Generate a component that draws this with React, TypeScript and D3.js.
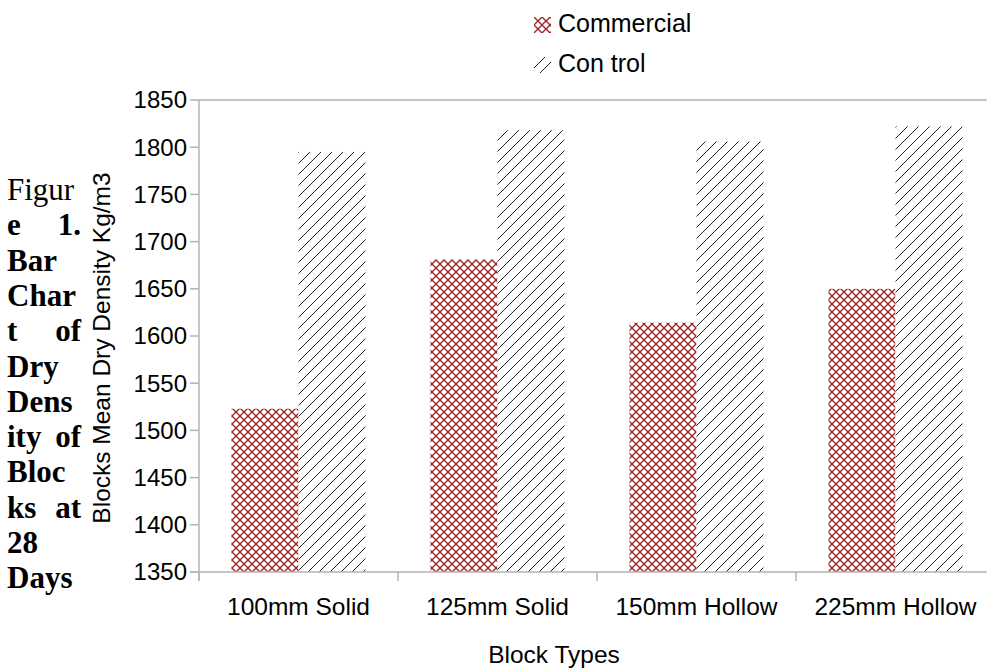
import React from "react";
import * as d3 from "d3";

const categories = ["100mm Solid", "125mm Solid", "150mm Hollow", "225mm Hollow"];
const seriesNames = ["Commercial", "Con trol"];
const commercial = [1523, 1681, 1614, 1650];
const control = [1795, 1818, 1806, 1822];
const yTicks = [1350, 1400, 1450, 1500, 1550, 1600, 1650, 1700, 1750, 1800, 1850];
const captionLines: [string, string | null, boolean][] = [
  ["Figur", null, false],
  ["e", "1.", true],
  ["Bar", null, true],
  ["Char", null, true],
  ["t", "of", true],
  ["Dry", null, true],
  ["Dens", null, true],
  ["ity", "of", true],
  ["Bloc", null, true],
  ["ks", "at", true],
  ["28", null, true],
  ["Days", null, true],
];

const W = 987;
const H = 668;
const left = 199;
const right = 995;
const top = 100;
const bottom = 572;
const pad = 0.3266;

export default function App() {
  const x = d3.scaleBand<string>().domain(categories).range([left, right]).paddingInner(pad).paddingOuter(pad / 2);
  const xs = d3.scaleBand<string>().domain(seriesNames).range([0, x.bandwidth()]);
  const y = d3.scaleLinear().domain([1350, 1850]).range([bottom, top]);
  const step = x.step();
  const series = [commercial, control];
  const fills = ["url(#cross)", "url(#diag)"];
  const font = "'Liberation Sans', Arial, sans-serif";
  const gray = "#b3b3b3";
  const boundaries = categories.map((c) => (x(c) as number) - (step * pad) / 2).concat([right]);

  return (
    <svg width={W} height={H} style={{ position: "absolute", left: 0, top: 0, background: "#fff" }}>
      <defs>
        <pattern id="cross" patternUnits="userSpaceOnUse" width={8} height={8}>
          <rect width={8} height={8} fill="#fff" />
          <path d="M0,0 L8,8 M8,0 L0,8" stroke="#9e1f1f" strokeWidth={1.3} />
        </pattern>
        <pattern id="diag" patternUnits="userSpaceOnUse" width={11} height={11}>
          <rect width={11} height={11} fill="#fff" />
          <path d="M0,11 L11,0 M-2,2 L2,-2 M9,13 L13,9" stroke="#222" strokeWidth={1} />
        </pattern>
      </defs>
      <rect width={W} height={H} fill="#fff" />

      {/* top border */}
      <line x1={left} x2={right} y1={top} y2={top} stroke={gray} strokeWidth={1.5} />

      {/* bars */}
      {series.map((vals, si) =>
        categories.map((c, i) => {
          const bx = (x(c) as number) + (xs(seriesNames[si]) as number);
          const by = y(vals[i]);
          return (
            <rect key={`${si}-${i}`} x={bx} y={by} width={xs.bandwidth()} height={bottom - by} fill={fills[si]} />
          );
        })
      )}

      {/* y axis */}
      <line x1={left} x2={left} y1={top} y2={bottom + 9} stroke={gray} strokeWidth={1.5} />
      {yTicks.map((t) => (
        <g key={t}>
          <line x1={left - 9} x2={left} y1={y(t)} y2={y(t)} stroke={gray} strokeWidth={1.5} />
          <text x={left - 12} y={y(t)} dy="0.35em" textAnchor="end" fontFamily={font} fontSize={24} fill="#000">
            {t}
          </text>
        </g>
      ))}

      {/* x axis */}
      <line x1={left - 9} x2={right} y1={bottom} y2={bottom} stroke={gray} strokeWidth={1.5} />
      {boundaries.map((b, i) => (
        <line key={i} x1={b} x2={b} y1={bottom} y2={bottom + 9} stroke={gray} strokeWidth={1.5} />
      ))}
      {categories.map((c) => (
        <text key={c} x={(x(c) as number) + x.bandwidth() / 2} y={615} textAnchor="middle" fontFamily={font} fontSize={24.5} fill="#000">
          {c}
        </text>
      ))}
      <text x={554} y={663} textAnchor="middle" fontFamily={font} fontSize={24.5} fill="#000">
        Block Types
      </text>

      {/* y title */}
      <text
        transform={`translate(110,${(top + bottom) / 2 + 12}) rotate(-90)`}
        textAnchor="middle"
        fontFamily={font}
        fontSize={24.5}
        fill="#000"
      >
        Blocks Mean Dry Density Kg/m3
      </text>

      {/* legend */}
      {seriesNames.map((s, i) => (
        <g key={s} transform={`translate(534,${17 + i * 40})`}>
          <rect width={17} height={16} fill={fills[i]} />
          <text x={24} y={15} fontFamily={font} fontSize={25} fill="#000">
            {s}
          </text>
        </g>
      ))}

      {/* caption */}
      {captionLines.map(([a, b, bold], i) => (
        <g key={i} fontFamily="'Liberation Serif', 'Times New Roman', serif" fontSize={31} fontWeight={bold ? "bold" : "normal"} fill="#000">
          <text x={7} y={200 + i * 35.3}>{a}</text>
          {b && (
            <text x={81} y={200 + i * 35.3} textAnchor="end">
              {b}
            </text>
          )}
        </g>
      ))}
    </svg>
  );
}
